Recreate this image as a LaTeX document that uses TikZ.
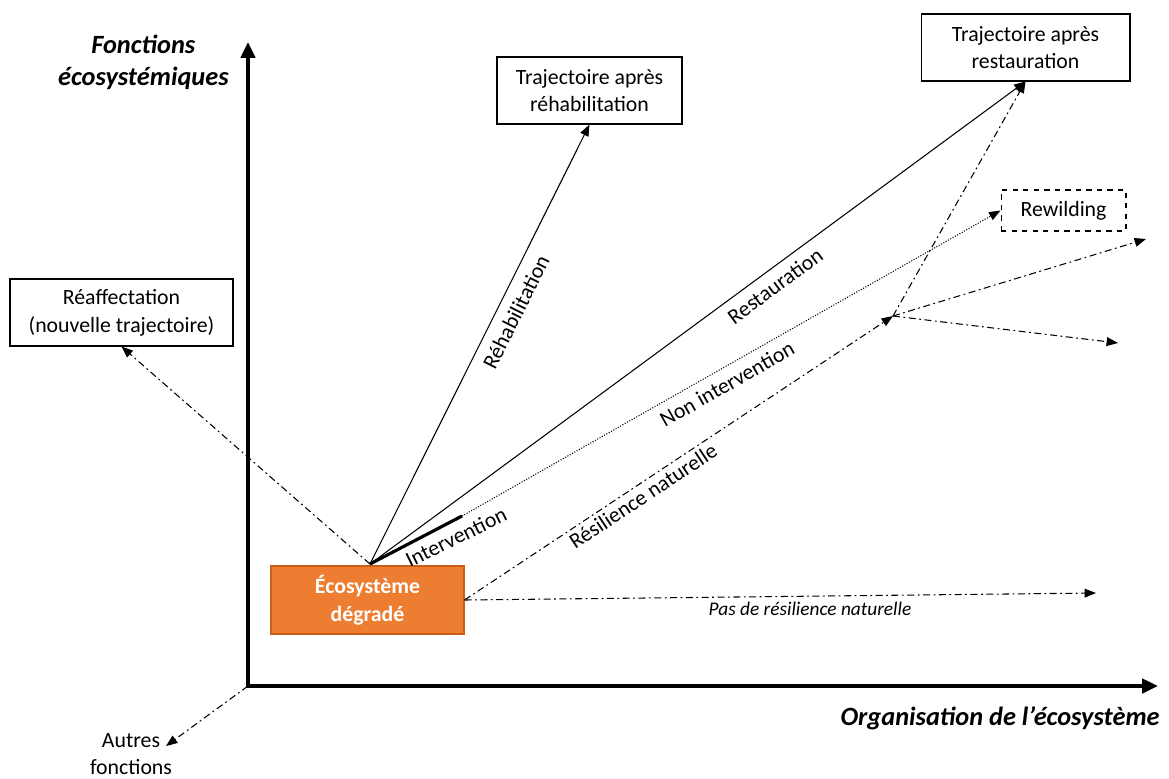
\documentclass[tikz,border=0pt]{standalone}
\usepackage{fontspec}
\setmainfont{Carlito}
\usetikzlibrary{arrows.meta}
\definecolor{degrade}{RGB}{237,125,49}
\definecolor{degradeborder}{RGB}{200,95,25}

\begin{document}
\begin{tikzpicture}[x=0.02cm, y=-0.02cm,
    font=\fontsize{12.4}{15.8}\selectfont,
    box/.style={draw, line width=0.6pt, align=center, inner sep=0pt},
    tip/.style={-{Triangle[length=6.5pt,width=5pt]}},
    traj/.style={line width=0.6pt, tip},
    mixte/.style={line width=0.6pt, dash pattern=on 4pt off 2pt on 1pt off 2pt, tip},
    pointille/.style={line width=0.6pt, dash pattern=on 0.6pt off 0.9pt, tip},
    axe/.style={line width=2.2pt, line join=miter, {Triangle[length=9pt,width=8pt]}-{Triangle[length=9pt,width=8pt]}},
    lbl/.style={inner sep=0pt}]
  \useasboundingbox (0,0) rectangle (1169,778);

  % axes
  \coordinate (ax) at (248,686);
  \coordinate (ytop) at (248,42);
  \coordinate (xend) at (1158,686);
  \draw[axe] (ytop) -- (ax) -- (xend);
  \node[lbl, anchor=north east, align=center, font=\fontsize{15}{18}\selectfont\bfseries\itshape] (fonctions) at (229,35) {Fonctions\\écosystémiques};
  \node[lbl, anchor=east, font=\fontsize{15}{18}\selectfont\bfseries\itshape] (organisation) at (1160,718) {Organisation de l’écosystème};

  % boites
  \node[box, fill=degrade, draw=degradeborder, text=white, font=\fontsize{12.4}{15.8}\selectfont\bfseries,
        minimum width=3.86cm, minimum height=1.36cm] (degr) at (367.5,600) {Écosystème\\dégradé};
  \node[box, minimum width=3.7cm, minimum height=1.34cm] (rehab) at (589.5,90.5) {Trajectoire après\\réhabilitation};
  \node[box, minimum width=4.18cm, minimum height=1.34cm] (resto) at (1025.5,47.5) {Trajectoire après\\restauration};
  \node[box, dashed, minimum width=2.5cm, minimum height=0.82cm] (rewild) at (1063.5,210.5) {Rewilding};
  \node[box, minimum width=4.46cm, minimum height=1.34cm] (reaff) at (121.5,312.5) {Réaffectation\\(nouvelle trajectoire)};
  \node[lbl, align=center] (autres) at (131,754) {Autres\\fonctions};

  % points
  \coordinate (o) at (370,564);
  \coordinate (iv) at (462,516);
  \coordinate (j) at (893,316);
  \coordinate (e1) at (1146,239);
  \coordinate (e2) at (1118,343);
  \coordinate (e3) at (1096,593);
  \coordinate (af) at (166,746);

  % trajectoires
  \draw[traj] (o) -- (rehab.south);
  \draw[traj] (o) -- (resto.south);
  \draw[line width=1.8pt] (o) -- (iv);
  \draw[pointille] (iv) -- (rewild.west);
  \draw[mixte] (degr.east) -- (j);
  \draw[mixte] (j) -- (resto.south);
  \draw[mixte] (j) -- (e1);
  \draw[mixte] (j) -- (e2);
  \draw[mixte] (degr.east) -- (e3);
  \draw[mixte] (o) -- (reaff.south);
  \draw[mixte] (ax) -- (af);

  % etiquettes
  \node[lbl, rotate=63.4] (lrehab) at (516,312) {Réhabilitation};
  \node[lbl, rotate=36.3] (lresto) at (775,286) {Restauration};
  \node[lbl, rotate=29.6] (lnonint) at (727,384) {Non intervention};
  \node[lbl, rotate=33.6] (lresil) at (643,496) {Résilience naturelle};
  \node[lbl, rotate=26] (linterv) at (456,537) {Intervention};
  \node[lbl, font=\fontsize{11}{13}\selectfont\itshape] (lpas) at (810,609) {Pas de résilience naturelle};
\end{tikzpicture}
\end{document}
